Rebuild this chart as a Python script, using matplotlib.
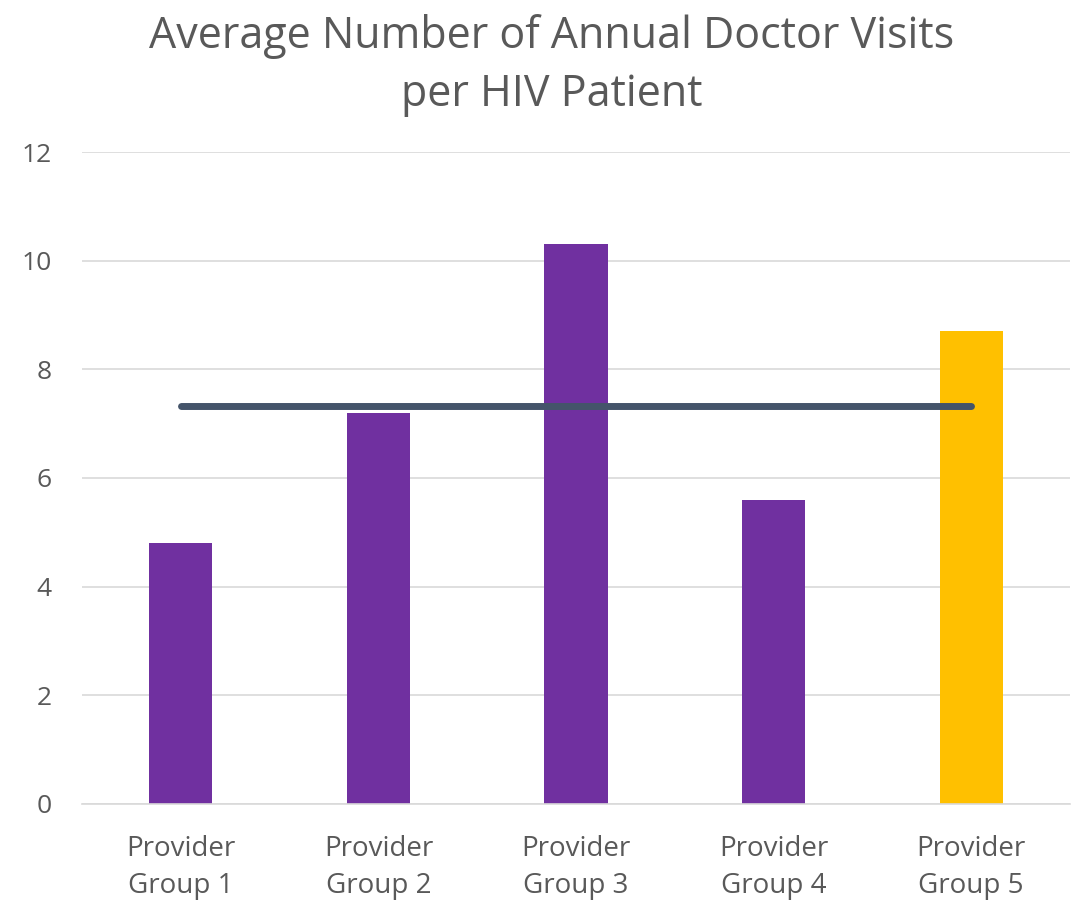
import numpy as np
import matplotlib
matplotlib.use("Agg")
import matplotlib.pyplot as plt

# ---------------------------------------------------------------------------
# Data
# ---------------------------------------------------------------------------
groups = ["Provider\nGroup 1", "Provider\nGroup 2", "Provider\nGroup 3",
          "Provider\nGroup 4", "Provider\nGroup 5"]
visits = [4.8, 7.2, 10.3, 5.6, 8.7]
bar_colors = ["#7030A0", "#7030A0", "#7030A0", "#7030A0", "#FFC000"]
average = [7.32, 7.32, 7.32, 7.32, 7.32]

plt.rcParams["font.family"] = ["Open Sans", "DejaVu Sans"]

fig = plt.figure(figsize=(10.71, 9.0), dpi=100, facecolor="white")
ax = fig.add_axes([0.0766, 0.1067, 0.9225, 0.7244])

x = np.arange(len(groups))
ax.bar(x, visits, width=0.32, color=bar_colors, zorder=2)
ax.plot(x, average, color="#44546A", linewidth=5, solid_capstyle="round", zorder=3)

ax.set_xlim(-0.5, len(groups) - 0.5)
ax.set_ylim(0, 12)
ax.set_yticks(np.arange(0, 13, 2))
ax.set_xticks(x)
ax.set_xticklabels(groups)

ax.grid(axis="y", color="#D9D9D9", linewidth=1.2, zorder=0)
for side in ["top", "right", "left"]:
    ax.spines[side].set_visible(False)
ax.spines["bottom"].set_color("#D9D9D9")
ax.spines["bottom"].set_linewidth(1.2)
ax.tick_params(axis="both", length=0, colors="#595959")
ax.tick_params(axis="y", pad=22, labelsize=19)
ax.tick_params(axis="x", pad=22, labelsize=20)
for lbl in ax.get_xticklabels():
    lbl.set_linespacing(1.45)

fig.text(0.515, 0.984, "Average Number of Annual Doctor Visits\nper HIV Patient",
         ha="center", va="top", fontsize=31, color="#595959", linespacing=1.38)

fig.savefig("out.png", dpi=100)
